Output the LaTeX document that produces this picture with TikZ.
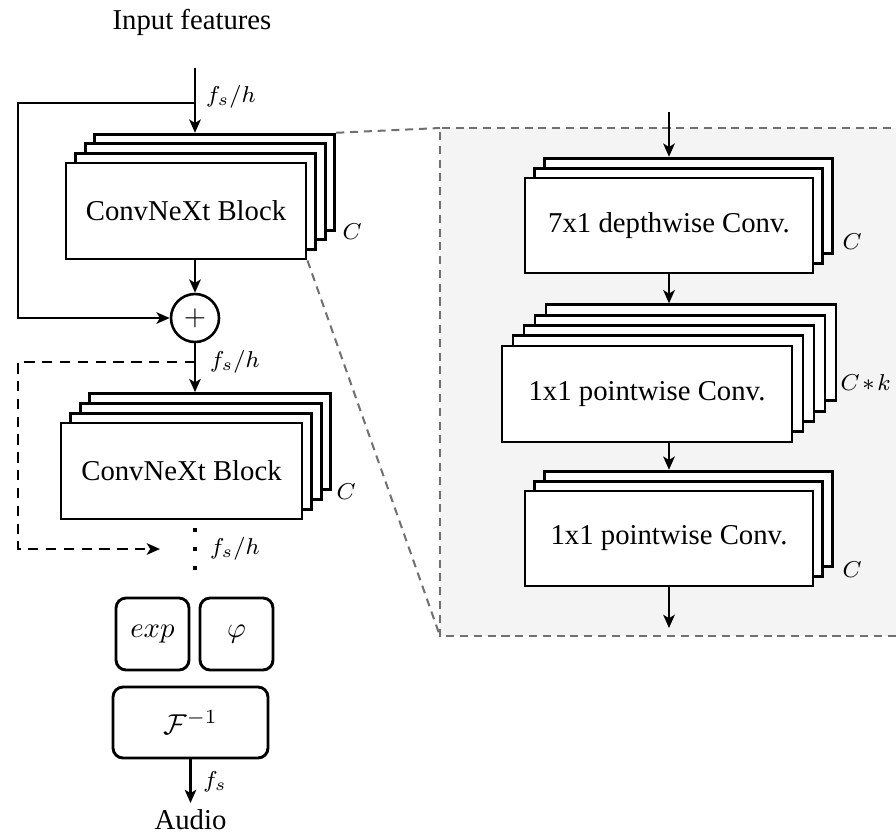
\documentclass[tikz,border=0pt]{standalone}
\usepackage{fontspec}
\setmainfont{Liberation Serif}
\usetikzlibrary{arrows.meta}
\definecolor{panelgray}{HTML}{F4F4F4}
\definecolor{dashgray}{HTML}{707070}
\def\u{0.348pt}
\tikzset{
  blk/.style={draw, line width=1pt, fill=white, inner sep=0pt},
  rbox/.style={draw, line width=1pt, fill=white, rounded corners=3.5pt, inner sep=0pt},
  arr/.style={line width=0.9pt, -{Stealth[length=4.6pt,width=4pt,inset=1.2pt]}},
  lbl/.style={font=\footnotesize, inner sep=0pt},
  zoomline/.style={dashgray, line width=0.7pt, dash pattern=on 2.8pt off 2pt},
  dot/.style={fill=black, inner sep=0pt, minimum size=4*\u},
}
\begin{document}
\begin{tikzpicture}[x=\u, y=-\u]
\useasboundingbox (0,0) rectangle (896,836);
\clip (0,0) rectangle (896,836);

% gray panel
\fill[panelgray] (440,128) rectangle (905,636);
\draw[zoomline] (905,128) -- (440,128) -- (440,636) -- (905,636);

% left stack 1 (ConvNeXt)
\foreach \i/\n in {3/s1d,2/s1c,1/s1b,0/s1a}{
  \node[blk, minimum width=240*\u, minimum height=96*\u] (\n) at (186+9.6*\i, 211-9.6*\i) {};
}
\node at (s1a) {ConvNeXt Block};
\node[lbl, anchor=west] at (342,232) {$C$};

% zoom lines
\coordinate (pTL) at (440,128);
\coordinate (pBL) at (440,636);
\draw[zoomline] (s1d.north east) -- (pTL);
\draw[zoomline] (s1a.south east) -- (pBL);

% input
\node (inp) at (192,22) {Input features};
\coordinate (in0) at (195,68);
\coordinate (skA) at (195,103);
\coordinate (skB) at (18,103);
\node[draw, circle, line width=0.9pt, minimum size=48*\u, inner sep=0pt] (add) at (195,318) {};
\node at (add) {$+$};
\draw[arr] (in0) -- (in0 |- s1d.north);
\node[lbl] at (231,97) {$f_s/h$};
\draw[arr] (skA) -- (skB) |- (add.west);
\draw[arr] (add.north |- s1a.south) -- (add.north);

% left stack 2
\foreach \i/\n in {3/s2d,2/s2c,1/s2b,0/s2a}{
  \node[blk, minimum width=241*\u, minimum height=96*\u] (\n) at (181.5+9.6*\i, 471-9.8*\i) {};
}
\node at (s2a) {ConvNeXt Block};
\node[lbl, anchor=west] at (336,492) {$C$};
\draw[arr] (add.south) -- (add.south |- s2d.north);
\node[lbl] at (235,362) {$f_s/h$};

% dashed loop
\coordinate (d0) at (195,362);
\coordinate (d1) at (18,362);
\coordinate (d2) at (160,549);
\draw[line width=0.9pt, dash pattern=on 3.6pt off 2.6pt, -{Stealth[length=4.6pt,width=4pt,inset=1.2pt]}] (d0) -- (d1) |- (d2);

% dots
\node[dot] (dt1) at (195,530) {};
\node[dot] (dt2) at (195,549) {};
\node[dot] (dt3) at (195,568) {};
\node[lbl] at (235,549) {$f_s/h$};

% output part
\node[rbox, minimum width=73*\u, minimum height=72*\u] (ex) at (152.5,634) {$exp$};
\node[rbox, minimum width=73*\u, minimum height=72*\u] (ph) at (236.5,634) {$\varphi$};
\node[rbox, minimum width=155*\u, minimum height=71*\u] (ift) at (190.5,722.5) {$\mathcal{F}^{-1}$};
\node[anchor=north, inner sep=2pt] (aud) at (190.5,803) {Audio};
\draw[arr] (ift.south) -- (aud.north);
\node[lbl] at (215,782) {$f_s$};

% right stack 1
\foreach \i/\n in {2/r1c,1/r1b,0/r1a}{
  \node[blk, minimum width=288*\u, minimum height=95*\u] (\n) at (669+9.7*\i, 225.5-9.9*\i) {};
}
\node at (r1a) {7x1 depthwise Conv.};
\node[lbl, anchor=west] at (842,242) {$C$};

% right stack 2
\foreach \i/\n in {4/r2e,3/r2d,2/r2c,1/r2b,0/r2a}{
  \node[blk, minimum width=290*\u, minimum height=96*\u] (\n) at (647+11*\i, 394-10.3*\i) {};
}
\node at (r2a) {1x1 pointwise Conv.};
\node[lbl, anchor=west] at (840,383) {$C\mkern-2mu*\mkern-2mu k$};

% right stack 3
\foreach \i/\n in {2/r3c,1/r3b,0/r3a}{
  \node[blk, minimum width=288*\u, minimum height=95*\u] (\n) at (669+9.7*\i, 538.5-9.9*\i) {};
}
\node at (r3a) {1x1 pointwise Conv.};
\node[lbl, anchor=west] at (842,570) {$C$};

% right arrows
\coordinate (rin) at (669,112);
\coordinate (rout) at (669,628);
\draw[arr] (rin) -- (rin |- r1c.north);
\draw[arr] (r1a.south) -- (r1a.south |- r2e.north);
\draw[arr] (r1a.south |- r2a.south) -- (r1a.south |- r3c.north);
\draw[arr] (r3a.south) -- (rout);
\end{tikzpicture}
\end{document}
